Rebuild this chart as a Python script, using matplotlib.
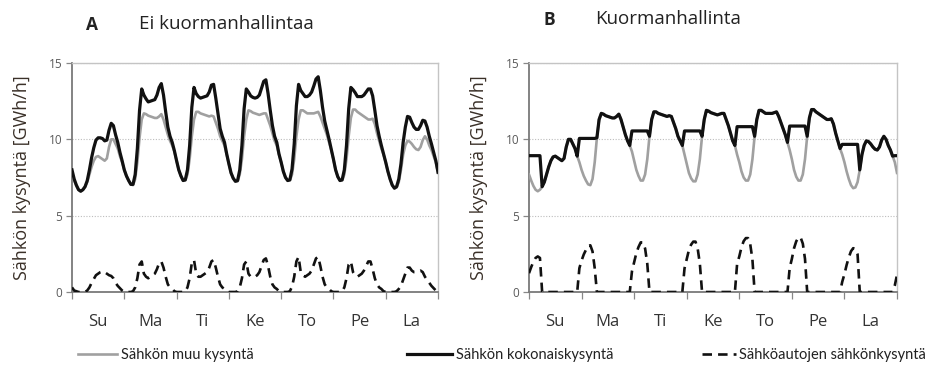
import matplotlib
matplotlib.use("Agg")
import matplotlib.pyplot as plt
import numpy as np

# ---------------- data (hourly, Sunday 00:00 ... Saturday 24:00) ----------------
day_labels = ["Su", "Ma", "Ti", "Ke", "To", "Pe", "La"]

# other electricity demand (GWh/h) - grey line, same in both panels
muu_kysynta = [
    7.7, 7.3, 6.95, 6.7, 6.6, 6.7, 6.9, 7.2, 7.7, 8.2, 8.6, 8.85, 8.9, 8.8, 8.7, 8.6, 8.75, 9.5, 10.0, 10.0, 9.7, 9.4, 8.9, 8.5,
    8.0, 7.6, 7.3, 7.05, 7.0, 7.4, 8.5, 10.1, 11.3, 11.7, 11.65, 11.55, 11.5, 11.45, 11.4, 11.4, 11.5, 11.65, 11.3, 10.8, 10.3, 9.9, 9.6, 9.2,
    8.6, 8.0, 7.6, 7.3, 7.3, 7.7, 8.7, 10.2, 11.3, 11.8, 11.8, 11.7, 11.65, 11.6, 11.55, 11.5, 11.55, 11.5, 11.1, 10.7, 10.2, 9.9, 9.6, 9.0,
    8.4, 7.8, 7.45, 7.25, 7.25, 7.7, 8.7, 10.2, 11.3, 11.9, 11.85, 11.75, 11.7, 11.65, 11.6, 11.65, 11.7, 11.7, 11.3, 10.9, 10.4, 9.9, 9.6, 9.0,
    8.5, 7.9, 7.5, 7.3, 7.3, 7.7, 8.7, 10.2, 11.3, 11.9, 11.9, 11.8, 11.7, 11.7, 11.7, 11.7, 11.75, 11.8, 11.5, 11.1, 10.7, 10.3, 9.8, 9.3,
    8.7, 8.0, 7.55, 7.3, 7.3, 7.7, 8.7, 10.2, 11.4, 11.95, 11.95, 11.8, 11.7, 11.6, 11.5, 11.4, 11.3, 11.3, 11.35, 11.0, 10.4, 9.9, 9.4, 9.0,
    8.5, 7.9, 7.4, 7.0, 6.8, 6.85, 7.2, 8.0, 9.0, 9.6, 9.9, 9.85, 9.7, 9.5, 9.35, 9.3, 9.5, 9.95, 10.2, 10.0, 9.6, 9.3, 8.9, 8.5,
    7.8,
]

# EV charging demand without load management (panel A, dashed)
ev_ilman_hallintaa = [
    0.3, 0.1, 0.05, 0, 0, 0, 0, 0.1, 0.3, 0.6, 0.85, 1.1, 1.2, 1.3, 1.35, 1.3, 1.2, 1.1, 1.05, 0.9, 0.6, 0.4, 0.25, 0.1,
    0, 0, 0, 0, 0.05, 0.3, 0.9, 1.8, 2.0, 1.2, 1.0, 0.9, 1.0, 1.1, 1.2, 1.5, 1.9, 2.0, 1.6, 1.0, 0.5, 0.3, 0.2, 0.05,
    0, 0, 0, 0, 0.05, 0.3, 0.9, 1.9, 2.1, 1.2, 1.0, 1.0, 1.1, 1.2, 1.3, 1.6, 2.0, 2.1, 1.6, 1.0, 0.5, 0.3, 0.2, 0.05,
    0, 0, 0, 0, 0.05, 0.3, 0.9, 1.8, 2.0, 1.2, 1.0, 1.0, 1.0, 1.1, 1.3, 1.7, 2.1, 2.2, 1.7, 1.0, 0.5, 0.3, 0.2, 0.05,
    0, 0, 0, 0, 0.05, 0.35, 1.0, 2.0, 2.3, 1.3, 1.1, 1.0, 1.1, 1.2, 1.4, 1.8, 2.2, 2.3, 1.7, 1.0, 0.5, 0.3, 0.2, 0.05,
    0, 0, 0, 0, 0.05, 0.3, 0.9, 1.8, 2.0, 1.3, 1.1, 1.0, 1.1, 1.2, 1.4, 1.7, 2.0, 2.0, 1.5, 0.9, 0.5, 0.3, 0.2, 0.05,
    0, 0, 0, 0, 0, 0.05, 0.2, 0.4, 0.8, 1.2, 1.6, 1.6, 1.4, 1.3, 1.3, 1.35, 1.4, 1.3, 1.0, 0.8, 0.6, 0.4, 0.25, 0.1,
    0.05,
]

# EV charging demand with load management (panel B, dashed) - night valley filling
ev_hallinnalla = [
    1.23, 1.63, 1.98, 2.23, 2.33, 2.23, 0, 0, 0, 0, 0, 0, 0, 0, 0, 0, 0, 0, 0, 0, 0, 0, 0, 1.56,
    2.06, 2.46, 2.76, 3.01, 3.06, 2.66, 1.56, 0, 0, 0, 0, 0, 0, 0, 0, 0, 0, 0, 0, 0, 0, 0, 0, 1.35,
    1.95, 2.55, 2.95, 3.25, 3.25, 2.85, 1.85, 0, 0, 0, 0, 0, 0, 0, 0, 0, 0, 0, 0, 0, 0, 0, 0, 1.55,
    2.15, 2.75, 3.10, 3.30, 3.30, 2.85, 1.85, 0, 0, 0, 0, 0, 0, 0, 0, 0, 0, 0, 0, 0, 0, 0, 0, 1.83,
    2.33, 2.93, 3.33, 3.53, 3.53, 3.13, 2.13, 0, 0, 0, 0, 0, 0, 0, 0, 0, 0, 0, 0, 0, 0, 0, 0, 1.57,
    2.17, 2.87, 3.32, 3.57, 3.57, 3.17, 2.17, 0, 0, 0, 0, 0, 0, 0, 0, 0, 0, 0, 0, 0, 0, 0, 0, 0.67,
    1.17, 1.77, 2.27, 2.67, 2.87, 2.82, 2.47, 0, 0, 0, 0, 0, 0, 0, 0, 0, 0, 0, 0, 0, 0, 0, 0, 0.43,
    1.13,
]

y_ticks = [0, 5, 10, 15]
panel_letters = ["A", "B"]
panel_titles = ["Ei kuormanhallintaa", "Kuormanhallinta"]
y_label = "Sähkön kysyntä [GWh/h]"
legend_labels = ["Sähkön muu kysyntä", "Sähkön kokonaiskysyntä", "Sähköautojen sähkönkysyntä"]

# ---------------- figure ----------------
W, H = 926, 369
fig = plt.figure(figsize=(W / 100, H / 100), dpi=100)
FONT = "Open Sans"
LFONT = "Lato"

hours = np.arange(len(muu_kysynta))
muu = np.array(muu_kysynta)
evs = [np.array(ev_ilman_hallintaa), np.array(ev_hallinnalla)]

axes_px = [(72, 438), (529, 897)]
top_px, bot_px = 63, 292

GREY = "#a0a0a0"
BLACK = "#111111"

handles = None
for i, (x0, x1) in enumerate(axes_px):
    ax = fig.add_axes([x0 / W, 1 - bot_px / H, (x1 - x0) / W, (bot_px - top_px) / H])
    ev = evs[i]
    total = muu + ev
    h_grey, = ax.plot(hours, muu, color=GREY, lw=1.9, solid_joinstyle="round", zorder=3)
    h_black, = ax.plot(hours, total, color=BLACK, lw=2.3, solid_joinstyle="round", zorder=4)
    h_dash, = ax.plot(hours, ev, color=BLACK, lw=1.9, linestyle=(0, (3.6, 2.3)), zorder=4)
    handles = [h_grey, h_black, h_dash]

    ax.set_xlim(0, 24 * len(day_labels))
    ax.set_ylim(0, 15)
    ax.set_yticks(y_ticks)
    ax.set_yticklabels([str(v) for v in y_ticks], fontsize=8.5, color="#5a5a5a", family=FONT)
    ax.tick_params(axis="y", length=4, width=0.9, color="#888888", pad=3)
    ax.yaxis.grid(True, linestyle=(0, (1, 1.5)), color="#bdbdbd", lw=0.8)
    ax.set_axisbelow(True)

    ax.set_xticks(np.arange(0, 24 * len(day_labels) + 1, 24))
    ax.set_xticklabels([])
    ax.tick_params(axis="x", which="major", length=5, width=0.9, color="#888888", direction="out")
    ax.set_xticks(np.arange(12, 24 * len(day_labels), 24), minor=True)
    ax.set_xticklabels(day_labels, minor=True, fontsize=12, color="#333333", family=FONT)
    ax.tick_params(axis="x", which="minor", length=0, pad=16)

    for s in ["left", "bottom"]:
        ax.spines[s].set_color("#7a7a7a")
        ax.spines[s].set_linewidth(1.3)
    for s in ["top", "right"]:
        ax.spines[s].set_color("#c4c4c4")
        ax.spines[s].set_linewidth(1.0)

    # y label
    fig.text((x0 - 50) / W, 1 - 178 / H, y_label, rotation=90, ha="center", va="center",
             fontsize=13, color="#3a3028", family=FONT)

# titles
fig.text(92 / W, 1 - 25 / H, panel_letters[0], fontsize=12.5, fontweight="bold", color="#222222",
         ha="center", va="center", family=FONT)
fig.text(139 / W, 1 - 24 / H, panel_titles[0], fontsize=13.5, color="#222222",
         ha="left", va="center", family=FONT)
fig.text(549 / W, 1 - 20 / H, panel_letters[1], fontsize=12.5, fontweight="bold", color="#222222",
         ha="center", va="center", family=FONT)
fig.text(595 / W, 1 - 19 / H, panel_titles[1], fontsize=13.5, color="#222222",
         ha="left", va="center", family=FONT)

# legend (three separate entries)
leg_x = [78, 407, 702]
leg_len = [2.7, 3.1, 2.3]
for h, lab, x, hl in zip(handles, legend_labels, leg_x, leg_len):
    fig.legend(handles=[h], labels=[lab], loc="center left", bbox_to_anchor=(x / W, 1 - 355 / H),
               frameon=False, borderpad=0, borderaxespad=0, handlelength=hl, handletextpad=0.25,
               prop={"family": LFONT, "size": 10.5}, labelcolor="#222222")

fig.savefig("out.png", dpi=100)
